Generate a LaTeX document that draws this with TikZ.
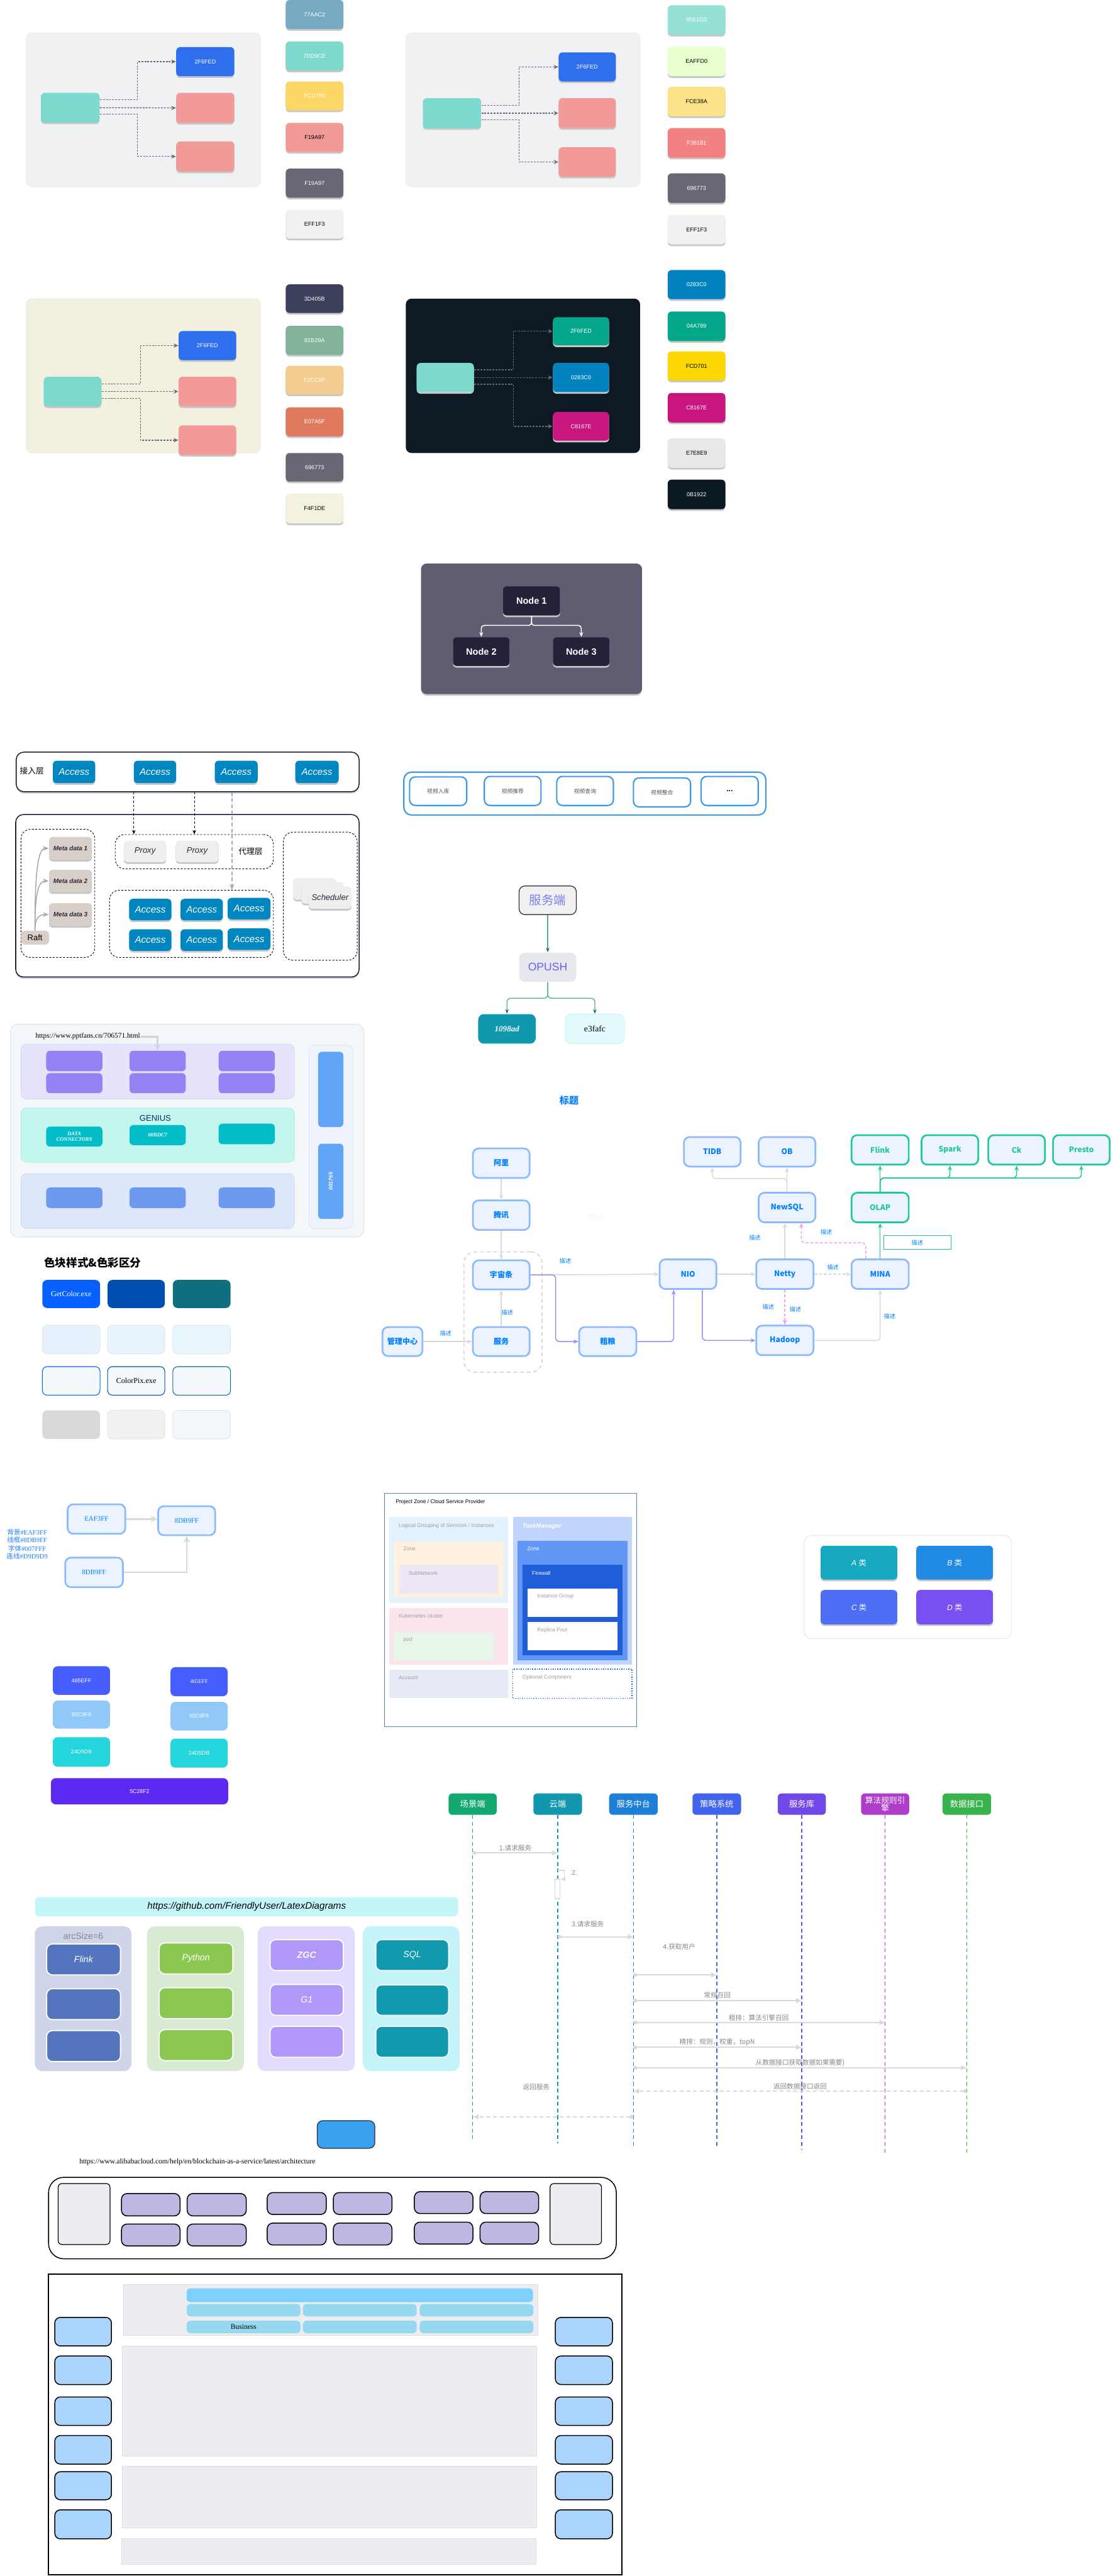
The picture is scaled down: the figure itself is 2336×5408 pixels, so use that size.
\documentclass[tikz,border=0pt]{standalone}
\usepackage{fontspec}
\setmainfont{Liberation Sans}
\newfontfamily\cjk{Noto Sans CJK SC}
\newfontfamily\srf{Liberation Serif}
\usetikzlibrary{arrows.meta,shadows,calc}
\newcommand\dc[1]{\definecolor{c#1}{HTML}{#1}}
\dc{EFF1F3}\dc{7DD9CE}\dc{2F6FED}\dc{F19A97}\dc{696773}\dc{F3F0DF}\dc{0D1A23}\dc{04A789}\dc{0283C0}\dc{C8167E}
\dc{77AAC2}\dc{FCD765}\dc{3D405B}\dc{81B29A}\dc{F2CC8F}\dc{E07A5F}\dc{F4F1DE}\dc{95E1D3}\dc{EAFFD0}\dc{FCE38A}
\dc{F38181}\dc{FCD701}\dc{E7E8E9}\dc{0B1922}\dc{5F5D72}\dc{232239}\dc{1F1F3A}\dc{0087C1}\dc{D8D0C8}\dc{EEEEEE}
\dc{A8A8A8}\dc{3C9AE8}\dc{7B7FF0}\dc{E6E8ED}\dc{6A5FF0}\dc{1E6B5C}\dc{1098AD}\dc{E3FAFC}\dc{5FA89A}\dc{F4F7FA}
\dc{E1E7EC}\dc{E6E3FC}\dc{9583F6}\dc{C3F7EE}\dc{0D2B6B}\dc{03BDC8}\dc{DDE6FA}\dc{6D9AEE}\dc{EFF3FD}\dc{62A5F7}
\dc{D3D3D3}\dc{0560FF}\dc{004FB0}\dc{106F7E}\dc{E7F0FD}\dc{E8F3FB}\dc{E8F6F9}\dc{F3F8FC}\dc{D9D9D9}\dc{F1F1F1}
\dc{F3F7FA}\dc{EAF3FF}\dc{8DB9FF}\dc{007FFF}\dc{1A7FFF}\dc{9B8CF5}\dc{F59FF0}\dc{20C997}\dc{5B7FC7}\dc{E3F2FD}
\dc{FFF1E0}\dc{EDE7F6}\dc{FCE4EC}\dc{E8F5E9}\dc{E8EAF6}\dc{C1D5FC}\dc{6296F7}\dc{1F5ED8}\dc{2962FF}\dc{9E9E9E}
\dc{17A9C1}\dc{218BE4}\dc{4C6EF5}\dc{7950F2}\dc{465EFF}\dc{90C9F8}\dc{24D5DB}\dc{5C28F2}\dc{C4F5F8}\dc{CFD4E8}
\dc{5474BD}\dc{D9EAD3}\dc{8BC852}\dc{E3DCFC}\dc{B098F8}\dc{C4F4F8}\dc{1199AE}\dc{13A870}\dc{1297AE}\dc{1C7ED6}
\dc{4263EB}\dc{7048E8}\dc{AE3EC9}\dc{37B24D}\dc{3AA0F0}\dc{BDB8E2}\dc{ECEDF0}\dc{7FD0FE}\dc{96D8F0}\dc{AAD4FC}
\dc{888888}\dc{DDDDE2}\dc{E5E5E5}\dc{DAD6F8}\dc{B2EDE3}\dc{D0DBF5}\dc{DDE5F5}\dc{DCE6F0}\dc{555555}\dc{2A2A3A}
\newcommand\bx[7]{\node[#6,minimum width={(#4-#2)*0.25pt},minimum height={(#5-#3)*0.25pt},inner sep=0pt] (#1) at ({(#2+#4)/2},{(#3+#5)/2}) {#7};}
\newcommand\fz[1]{\fontsize{#1}{#1}\selectfont}
\begin{document}
\begin{tikzpicture}[x=0.25pt,y=-0.25pt,
  shd/.style={drop shadow={shadow xshift=0pt,shadow yshift=-0.9pt,opacity=1,fill=black!22}},
  tile/.style={rounded corners=2pt,shd},
  sw/.style={tile,font=\fz{3}},
  dasharr/.style={draw=c696773,line width=0.45pt,dash pattern=on 1pt off 0.6pt,-{Stealth[length=2.4pt,width=2.2pt]}},
  tnode/.style={fill=c232239,rounded corners=2pt,text=white,font=\fz{4.8}\bfseries,shd},
  treearr/.style={draw=white,line width=0.5pt,rounded corners=1.5pt,-{Stealth[length=2.5pt,width=2pt]}},
  outer/.style={draw=c1F1F3A,line width=0.5pt,fill=white,rounded corners=4pt,shd},
  acc/.style={tile,fill=c0087C1,text=white,font=\fz{5}\itshape},
  grp/.style={draw=black,line width=0.3pt,dash pattern=on 1pt off 0.8pt,rounded corners=5pt},
  meta/.style={tile,fill=cD8D0C8,text=c2A2A3A,font=\fz{3.3}\bfseries\itshape},
  prx/.style={tile,fill=cEEEEEE,text=c2A2A3A,font=\fz{4.3}\itshape},
  thinarr/.style={draw=black,line width=0.3pt,dash pattern=on 1.2pt off 1pt,-{Stealth[length=2.2pt,width=1.8pt]}},
  grayarr/.style={draw=cA8A8A8,line width=0.5pt,dash pattern=on 2pt off 1.2pt,-{Stealth[length=3pt,width=2.4pt]}},
  raftarr/.style={draw=cA8A8A8,line width=0.5pt,-{Stealth[length=3pt,width=2.4pt]}},
  vid/.style={draw=c3C9AE8,line width=0.7pt,rounded corners=3pt,fill=white,text=c555555,font=\cjk\fz{2.9}},
  tl/.style={draw=c5FA89A,line width=0.45pt,rounded corners=2pt,-{Stealth[length=2.4pt,width=1.8pt,color=c1E6B5C]}},
  pp/.style={rounded corners=2pt},
  ge/.style={draw=cD9D9D9,line width=0.5pt,-{Stealth[length=2.6pt,width=2.2pt]}},
  pe/.style={draw=c9B8CF5,line width=0.5pt,rounded corners=2pt,-{Stealth[length=2.6pt,width=2.2pt]}},
  pkd/.style={draw=cF59FF0,line width=0.5pt,dash pattern=on 1.5pt off 1pt,rounded corners=2pt,-{Stealth[length=2.6pt,width=2.2pt]}},
  gre/.style={draw=c20C997,line width=0.5pt,rounded corners=2pt,-{Stealth[length=2.6pt,width=2.2pt]}},
  gb/.style={fill=cEAF3FF,draw=c8DB9FF,line width=0.9pt,rounded corners=3pt,text=c007FFF,font=\cjk\fz{4}\bfseries},
  gg/.style={gb,draw=c20C997,text=c20C997},
  ds/.style={text=c007FFF,font=\cjk\fz{3}},
  eaf/.style={fill=cEAF3FF,draw=c8DB9FF,line width=0.9pt,rounded corners=3pt,text=c007FFF,font=\srf\fz{3.6}},
  pz/.style={font=\fz{2.8},text=c9E9E9E,anchor=west},
  cb/.style={rounded corners=2.5pt},
  lx/.style={draw=white,line width=0.6pt,rounded corners=3pt,text=white,font=\fz{4.7}\itshape},
  hd/.style={rounded corners=2pt,text=white,font=\cjk\fz{4.4},align=center},
  life/.style={line width=0.5pt,dash pattern=on 2pt off 1.5pt},
  msg/.style={draw=cD9D9D9,line width=0.6pt,{Circle[length=2pt]}-{Latex[length=3pt,width=3pt]}},
  rmsg/.style={msg,dash pattern=on 2pt off 1.5pt},
  mlab/.style={text=c888888,font=\cjk\fz{3.5}},
  pur/.style={fill=cBDB8E2,draw=black,line width=0.5pt,rounded corners=3pt},
  lbl/.style={fill=cAAD4FC,draw=black,line width=0.5pt,rounded corners=3pt},
  gpan/.style={fill=cECEDF0,draw=cDDDDE2,line width=0.3pt}
]
\fill[white] (0,0) rectangle (2336,5408);
\useasboundingbox (0,0) rectangle (2336,5408);

% ---------- palette panel TL
\bx{pa}{55}{69}{547}{392}{fill=cEFF1F3,draw=black!6,rounded corners=3pt}{}
\bx{pat}{86}{195}{209}{257}{tile,fill=c7DD9CE}{}
\bx{pab}{370}{99}{492}{160}{sw,fill=c2F6FED,text=white}{2F6FED}
\bx{pap}{370}{195}{492}{258}{tile,fill=cF19A97}{}
\bx{paq}{370}{297}{492}{360}{tile,fill=cF19A97}{}
\draw[dasharr] ($(pat.east)+(0,-17)$) -- ++(79,0) |- (pab.west);
\draw[dasharr] (pat.east) -- (pap.west);
\draw[dasharr] ($(pat.east)+(0,14)$) -- ++(79,0) |- (paq.west);
% ---------- palette panel TR
\bx{pb}{852}{69}{1344}{392}{fill=cEFF1F3,draw=black!6,rounded corners=3pt}{}
\bx{pbt}{888}{206}{1010}{269}{tile,fill=c7DD9CE}{}
\bx{pbb}{1173}{110}{1293}{171}{sw,fill=c2F6FED,text=white}{2F6FED}
\bx{pbp}{1173}{206}{1293}{269}{tile,fill=cF19A97}{}
\bx{pbq}{1173}{309}{1293}{371}{tile,fill=cF19A97}{}
\draw[dasharr] ($(pbt.east)+(0,-16)$) -- ++(79,0) |- (pbb.west);
\draw[dasharr] (pbt.east) -- (pbp.west);
\draw[dasharr] ($(pbt.east)+(0,14)$) -- ++(79,0) |- (pbq.west);
% ---------- palette panel BL
\bx{pc}{55}{627}{547}{951}{fill=cF3F0DF,draw=black!6,rounded corners=3pt}{}
\bx{pct}{92}{791}{213}{853}{tile,fill=c7DD9CE}{}
\bx{pcb}{375}{695}{496}{756}{sw,fill=c2F6FED,text=white}{2F6FED}
\bx{pcp}{375}{791}{496}{853}{tile,fill=cF19A97}{}
\bx{pcq}{375}{893}{496}{955}{tile,fill=cF19A97}{}
\draw[dasharr] ($(pct.east)+(0,-16)$) -- ++(81,0) |- (pcb.west);
\draw[dasharr] (pct.east) -- (pcp.west);
\draw[dasharr] ($(pct.east)+(0,14)$) -- ++(81,0) |- (pcq.west);
% ---------- palette panel BR (dark)
\bx{pd}{852}{627}{1344}{951}{fill=c0D1A23,rounded corners=3pt}{}
\bx{pdt}{875}{762}{995}{823}{tile,fill=c7DD9CE}{}
\bx{pdb}{1161}{666}{1279}{725}{sw,fill=c04A789,text=white}{2F6FED}
\bx{pdp}{1161}{762}{1279}{823}{sw,fill=c0283C0,text=white}{0283C0}
\bx{pdq}{1161}{865}{1279}{925}{sw,fill=cC8167E,text=white}{C8167E}
\draw[dasharr] ($(pdt.east)+(0,-16)$) -- ++(82,0) |- (pdb.west);
\draw[dasharr] (pdt.east) -- (pdp.west);
\draw[dasharr] ($(pdt.east)+(0,14)$) -- ++(82,0) |- (pdq.west);
% ---------- swatches col 1
\bx{s1}{600}{0}{721}{61}{sw,fill=c77AAC2,text=white}{77AAC2}
\bx{s2}{600}{87}{721}{148}{sw,fill=c7DD9CE,text=white}{7DD9CE}
\bx{s3}{600}{171}{721}{232}{sw,fill=cFCD765,text=white}{FCD765}
\bx{s4}{600}{258}{721}{319}{sw,fill=cF19A97,text=black}{F19A97}
\bx{s5}{600}{354}{721}{415}{sw,fill=c696773,text=white}{F19A97}
\bx{s6}{600}{440}{721}{501}{sw,fill=cEFF1F3,text=black}{EFF1F3}
\bx{s7}{600}{597}{721}{657}{sw,fill=c3D405B,text=white}{3D405B}
\bx{s8}{600}{684}{721}{745}{sw,fill=c81B29A,text=white}{81B29A}
\bx{s9}{600}{768}{721}{828}{sw,fill=cF2CC8F,text=white}{F2CC8F}
\bx{s10}{600}{855}{721}{916}{sw,fill=cE07A5F,text=white}{E07A5F}
\bx{s11}{600}{951}{721}{1011}{sw,fill=c696773,text=white}{696773}
\bx{s12}{600}{1036}{721}{1099}{sw,fill=cF4F1DE,text=black}{F4F1DE}
% ---------- swatches col 2
\bx{t1}{1402}{11}{1523}{73}{sw,fill=c95E1D3,text=white}{95E1D3}
\bx{t2}{1402}{98}{1523}{160}{sw,fill=cEAFFD0,text=black}{EAFFD0}
\bx{t3}{1402}{182}{1523}{244}{sw,fill=cFCE38A,text=black}{FCE38A}
\bx{t4}{1402}{269}{1523}{331}{sw,fill=cF38181,text=white}{F38181}
\bx{t5}{1402}{364}{1523}{426}{sw,fill=c696773,text=white}{696773}
\bx{t6}{1402}{451}{1523}{513}{sw,fill=cEFF1F3,text=black}{EFF1F3}
\bx{t7}{1402}{567}{1523}{628}{sw,fill=c0283C0,text=white}{0283C0}
\bx{t8}{1402}{654}{1523}{716}{sw,fill=c04A789,text=white}{04A789}
\bx{t9}{1402}{738}{1523}{799}{sw,fill=cFCD701,text=black}{FCD701}
\bx{t10}{1402}{825}{1523}{887}{sw,fill=cC8167E,text=white}{C8167E}
\bx{t11}{1402}{920}{1523}{982}{sw,fill=cE7E8E9,text=black}{E7E8E9}
\bx{t12}{1402}{1007}{1523}{1069}{sw,fill=c0B1922,text=white}{0B1922}

% ---------- node tree
\bx{ntp}{884}{1183}{1348}{1457}{fill=c5F5D72,rounded corners=3pt,shd}{}
\bx{n1}{1056}{1231}{1176}{1292}{tnode}{Node 1}
\bx{n2}{951}{1338}{1070}{1398}{tnode}{Node 2}
\bx{n3}{1161}{1338}{1280}{1398}{tnode}{Node 3}
\draw[treearr] (n1.south) -- (n1.south |- 0,1313) -| (n2.north);
\draw[treearr] (n1.south) -- (n1.south |- 0,1313) -| (n3.north);

% ---------- access diagram
\bx{atop}{34}{1579}{754}{1662}{outer}{}
\node[font=\cjk\fz{4.2}] (jr) at (67,1618) {接入层};
\bx{a1}{111}{1597}{200}{1644}{acc}{Access}
\bx{a2}{281}{1597}{370}{1644}{acc}{Access}
\bx{a3}{451}{1597}{541}{1644}{acc}{Access}
\bx{a4}{620}{1597}{711}{1644}{acc}{Access}
\bx{abig}{33}{1710}{754}{2051}{outer}{}
\bx{lg}{44}{1741}{199}{2010}{grp}{}
\bx{md1}{103}{1757}{193}{1805}{meta}{Meta data 1}
\bx{md2}{103}{1826}{193}{1873}{meta}{Meta data 2}
\bx{md3}{103}{1896}{193}{1944}{meta}{Meta data 3}
\bx{raft}{44}{1954}{103}{1983}{fill=cD8D0C8,rounded corners=2pt,font=\fz{4.3}}{Raft}
\draw[raftarr] (raft.north) .. controls (73,1830) and (80,1781) .. (md1.west);
\draw[raftarr] (raft.north) .. controls (73,1880) and (80,1849) .. (md2.west);
\draw[raftarr] (raft.north) .. controls (73,1930) and (80,1920) .. (md3.west);
\bx{pg}{242}{1752}{574}{1824}{grp}{}
\bx{px1}{260}{1765}{349}{1810}{prx}{Proxy}
\bx{px2}{369}{1765}{459}{1810}{prx}{Proxy}
\node[font=\cjk\fz{4.2}] (dl) at (526,1787) {代理层};
\bx{ag}{230}{1869}{574}{2010}{grp}{}
\bx{b1}{271}{1887}{360}{1932}{acc}{Access}
\bx{b2}{379}{1887}{468}{1932}{acc}{Access}
\bx{b3}{478}{1885}{568}{1930}{acc}{Access}
\bx{b4}{271}{1951}{360}{1996}{acc}{Access}
\bx{b5}{379}{1951}{468}{1996}{acc}{Access}
\bx{b6}{478}{1949}{568}{1994}{acc}{Access}
\bx{sg}{595}{1747}{750}{2016}{grp}{}
\bx{sc1}{616}{1843}{705}{1889}{prx}{}
\bx{sc2}{633}{1852}{722}{1897}{prx}{}
\bx{sc3}{648}{1861}{738}{1908}{prx}{Scheduler}
\draw[thinarr] (atop.south -| 281,0) -- (pg.north -| 281,0);
\draw[thinarr] (atop.south -| 408,0) -- (pg.north -| 408,0);
\draw[grayarr] (atop.south -| 487,0) -- (ag.north -| 487,0);

% ---------- video boxes
\bx{vo}{848}{1621}{1608}{1711}{draw=c3C9AE8,line width=0.7pt,rounded corners=4pt}{}
\bx{v1}{860}{1631}{980}{1691}{vid}{视频入库}
\bx{v2}{1017}{1630}{1136}{1691}{vid}{视频推荐}
\bx{v3}{1169}{1630}{1288}{1691}{vid}{视频查询}
\bx{v4}{1330}{1633}{1450}{1694}{vid}{视频整合}
\bx{v5}{1472}{1630}{1592}{1691}{vid,text=black,font=\fz{4}\bfseries}{...}

% ---------- server / OPUSH
\bx{fwd}{1090}{1860}{1210}{1920}{fill=cF1F1F1,draw=c2A2A3A,line width=0.4pt,rounded corners=3pt,text=c7B7FF0,font=\cjk\fz{6.4}}{服务端}
\bx{op}{1090}{2000}{1210}{2061}{fill=cE6E8ED,rounded corners=3pt,text=c6A5FF0,font=\fz{5.8}}{OPUSH}
\bx{ca}{1004}{2129}{1125}{2191}{fill=c1098AD,rounded corners=3pt,text=white,font=\srf\fz{4.3}\bfseries\itshape}{1098ad}
\bx{cbx}{1187}{2129}{1311}{2191}{fill=cE3FAFC,draw=cC4F4F8,line width=0.3pt,rounded corners=3pt,font=\srf\fz{4.5}}{e3fafc}
\draw[tl] (fwd.south) -- (op.north);
\draw[tl] (op.south) -- ++(0,34) -| (ca.north);
\draw[tl] (op.south) -- ++(0,34) -| (cbx.north);

% ---------- pptfans
\bx{pf}{22}{2150}{764}{2597}{fill=cF4F7FA,draw=cE1E7EC,line width=0.4pt,rounded corners=4pt}{}
\node[anchor=west,inner sep=0pt,font=\srf\fz{3.75}] (url) at (74,2176) {https://www.pptfans.cn/706571.html};
\bx{pq}{44}{2192}{618}{2307}{fill=cE6E3FC,draw=cDAD6F8,line width=0.3pt,rounded corners=3pt}{}
\bx{pq1}{97}{2206}{215}{2249}{pp,fill=c9583F6}{}
\bx{pq2}{272}{2206}{390}{2249}{pp,fill=c9583F6}{}
\bx{pq3}{459}{2206}{577}{2249}{pp,fill=c9583F6}{}
\bx{pq4}{97}{2253}{215}{2295}{pp,fill=c9583F6}{}
\bx{pq5}{272}{2253}{390}{2295}{pp,fill=c9583F6}{}
\bx{pq6}{459}{2253}{577}{2295}{pp,fill=c9583F6}{}
\draw[draw=cD3D3D3,line width=1pt,-{Stealth[length=3pt,width=3pt]}] (url.east) -| (pq2.north);
\bx{pt}{44}{2326}{618}{2440}{fill=cC3F7EE,draw=cB2EDE3,line width=0.3pt,rounded corners=3pt}{}
\node[text=c0D2B6B,font=\fz{4.3}] (gen) at (326,2348) {GENIUS};
\bx{pt1}{97}{2365}{215}{2407}{pp,fill=c03BDC8,text=white,font=\srf\fz{2.8}\bfseries\itshape,align=center}{DATA\\CONNECTORS}
\bx{pt2}{272}{2362}{390}{2404}{pp,fill=c03BDC8,text=white,font=\srf\fz{2.8}\bfseries\itshape}{00BDC7}
\bx{pt3}{459}{2359}{577}{2402}{pp,fill=c03BDC8}{}
\bx{pr}{44}{2464}{618}{2579}{fill=cDDE6FA,draw=cD0DBF5,line width=0.3pt,rounded corners=3pt}{}
\bx{pr1}{97}{2493}{215}{2536}{pp,fill=c6D9AEE}{}
\bx{pr2}{272}{2493}{390}{2536}{pp,fill=c6D9AEE}{}
\bx{pr3}{459}{2493}{577}{2536}{pp,fill=c6D9AEE}{}
\bx{ps}{649}{2194}{741}{2579}{fill=cEFF3FD,draw=cDDE5F5,line width=0.3pt,rounded corners=3pt}{}
\bx{ps1}{668}{2208}{721}{2366}{pp,fill=c62A5F7}{}
\bx{ps2}{668}{2401}{721}{2559}{pp,fill=c62A5F7}{}
\node[rotate=90,text=white,font=\fz{2.8}\bfseries\itshape] (ps2t) at (ps2.center) {001765};

% ---------- color blocks
\node[anchor=west,inner sep=0pt,font=\cjk\fz{5.8}\bfseries] (cbt) at (92,2651) {色块样式\&色彩区分};
\bx{k1}{89}{2687}{210}{2746}{cb,fill=c0560FF,text=white,font=\srf\fz{4}}{GetColor.exe}
\bx{k2}{226}{2687}{346}{2746}{cb,fill=c004FB0}{}
\bx{k3}{363}{2687}{484}{2746}{cb,fill=c106F7E}{}
\bx{k4}{89}{2782}{210}{2842}{cb,fill=cE7F0FD,draw=cDCE6F0,line width=0.3pt}{}
\bx{k5}{226}{2782}{346}{2842}{cb,fill=cE8F3FB,draw=cDCE6F0,line width=0.3pt}{}
\bx{k6}{363}{2782}{484}{2842}{cb,fill=cE8F6F9,draw=cDCE6F0,line width=0.3pt}{}
\bx{k7}{89}{2869}{210}{2929}{cb,fill=cF3F8FC,draw=c0560FF,line width=0.35pt}{}
\bx{k8}{226}{2869}{346}{2929}{cb,fill=cF3F8FC,draw=c004FB0,line width=0.35pt,font=\srf\fz{4}}{ColorPix.exe}
\bx{k9}{363}{2869}{484}{2929}{cb,fill=cF3F8FC,draw=c106F7E,line width=0.35pt}{}
\bx{k10}{89}{2961}{210}{3021}{cb,fill=cD9D9D9}{}
\bx{k11}{226}{2961}{346}{3021}{cb,fill=cF1F1F1,draw=cE5E5E5,line width=0.3pt}{}
\bx{k12}{363}{2961}{484}{3021}{cb,fill=cF3F7FA,draw=cE5E5E5,line width=0.3pt}{}

% ---------- EAF legend
\bx{e1}{142}{3158}{263}{3220}{eaf}{EAF3FF}
\bx{e2}{332}{3162}{452}{3223}{eaf}{8DB9FF}
\bx{e3}{137}{3270}{258}{3332}{eaf}{8DB9FF}
\draw[draw=cD9D9D9,line width=0.8pt,-{Stealth[length=3.5pt,width=3.5pt]}] (e1.east) -- (e1.east -| e2.west);
\draw[draw=cD9D9D9,line width=0.8pt,-{Stealth[length=3.5pt,width=3.5pt]}] (e3.east) -| (e2.south);
\node[text=c1A7FFF,font=\fz{3.5}] (lg1) at (57,3217) {{\cjk 背景}{\srf\#EAF3FF}};
\node[text=c1A7FFF,font=\fz{3.5}] (lg2) at (57,3233) {{\cjk 线框}{\srf\#8DB9FF}};
\node[text=c1A7FFF,font=\fz{3.5}] (lg3) at (57,3251) {{\cjk 字体}{\srf\#007FFF}};
\node[text=c1A7FFF,font=\fz{3.5}] (lg4) at (57,3267) {{\cjk 连线}{\srf\#D9D9D9}};

% ---------- colour blocks 465EFF
\bx{q1}{111}{3498}{231}{3558}{cb,fill=c465EFF,text=white,font=\fz{2.9}}{465EFF}
\bx{q2}{111}{3570}{231}{3629}{cb,fill=c90C9F8,text=white,font=\fz{2.9}}{90C9F8}
\bx{q3}{111}{3647}{231}{3709}{cb,fill=c24D5DB,text=white,font=\fz{2.9}}{24D5DB}
\bx{q4}{358}{3500}{478}{3561}{cb,fill=c465EFF,text=white,font=\srf\fz{2.9}}{465EFF}
\bx{q5}{358}{3573}{478}{3633}{cb,fill=c90C9F8,text=white,font=\fz{2.9}}{90C9F8}
\bx{q6}{358}{3650}{478}{3711}{cb,fill=c24D5DB,text=white,font=\fz{2.9}}{24D5DB}
\bx{q7}{107}{3733}{479}{3788}{cb,fill=c5C28F2,text=white,font=\fz{2.9}}{5C28F2}

% ---------- title graph
\node[text=c007FFF,font=\cjk\fz{5}\bfseries\itshape] (ttl) at (1195,2310) {标题};
\bx{grpd}{974}{2628}{1138}{2881}{draw=cD9D9D9,line width=0.6pt,dash pattern=on 2pt off 1.5pt,rounded corners=6pt}{}
\node[text=cEFF3FD,font=\fz{4}] (ghost) at (1250,2555) {Text};
\bx{ali}{993}{2411}{1112}{2473}{gb}{阿里}
\bx{tx}{993}{2520}{1112}{2582}{gb}{腾讯}
\bx{yz}{993}{2646}{1112}{2707}{gb}{宇宙条}
\bx{fw}{993}{2786}{1112}{2847}{gb}{服务}
\bx{gl}{803}{2786}{887}{2847}{gb}{管理中心}
\bx{cl}{1216}{2786}{1336}{2847}{gb}{粗粮}
\bx{nio}{1385}{2644}{1504}{2706}{gb}{NIO}
\bx{nt}{1588}{2644}{1708}{2706}{gb}{Netty}
\bx{mina}{1788}{2644}{1908}{2706}{gb}{MINA}
\bx{hdp}{1588}{2783}{1708}{2845}{gb}{Hadoop}
\bx{ns}{1593}{2504}{1712}{2566}{gb}{NewSQL}
\bx{tidb}{1436}{2387}{1555}{2449}{gb}{TIDB}
\bx{ob}{1593}{2387}{1712}{2449}{gb}{OB}
\bx{olap}{1788}{2504}{1908}{2566}{gg}{OLAP}
\bx{flink}{1788}{2383}{1908}{2445}{gg}{Flink}
\bx{spark}{1935}{2383}{2054}{2445}{gg}{Spark}
\bx{ck}{2075}{2383}{2194}{2445}{gg}{Ck}
\bx{presto}{2211}{2383}{2330}{2445}{gg}{Presto}
\bx{dsb}{1855}{2594}{1997}{2623}{draw=c20C997,line width=0.3pt,ds}{描述}
\draw[ge] (ali) -- (tx);
\draw[ge] (tx) -- (yz);
\draw[ge] (fw) -- (yz);
\draw[ge] (gl) -- (fw);
\draw[ge] (yz.east) -- (nio.west);
\draw[pe] (yz.east) -- ++(53,0) |- (cl.west);
\draw[pe] (cl.east) -| ($(nio.south)+(-30,0)$);
\draw[pe] ($(nio.south)+(30,0)$) |- (hdp.west);
\draw[ge] (nio.east) -- (nt.west);
\draw[ge,dash pattern=on 1.5pt off 1pt] (nt.east) -- (mina.west);
\draw[ge] (nt.north) -- (nt.north |- ns.south);
\draw[pkd] ($(mina.north)+(-30,0)$) -- ++(0,-33) -| ($(ns.south)+(30,0)$);
\draw[pkd] (nt.south) -- (hdp.north);
\draw[ge,rounded corners=2pt] (hdp.east) -| (mina.south);
\draw[gre] (mina.north) -- (olap.south);
\draw[ge,rounded corners=2pt] (ns.north) -- ++(0,-28) -| (tidb.south);
\draw[ge] (ns.north) -- (ob.south);
\draw[gre] (olap.north) -- (flink.south);
\draw[gre] (olap.north) -- ++(0,-29) -| (spark.south);
\draw[gre] (olap.north) -- ++(0,-29) -| (ck.south);
\draw[gre] (olap.north) -- ++(0,-29) -| (presto.south);
\node[ds] (d1) at (1065,2755) {描述};
\node[ds] (d2) at (936,2799) {描述};
\node[ds] (d3) at (1187,2647) {描述};
\node[ds] (d4) at (1749,2660) {描述};
\node[ds] (d5) at (1585,2599) {描述};
\node[ds] (d6) at (1735,2587) {描述};
\node[ds] (d7) at (1613,2744) {描述};
\node[ds] (d8) at (1670,2749) {描述};
\node[ds] (d9) at (1868,2763) {描述};

% ---------- project zone
\bx{pzo}{807}{3135}{1337}{3625}{draw=c5B7FC7,line width=0.35pt,fill=white}{}
\node[anchor=west,font=\fz{2.8}] (pzt) at (817,3153) {Project Zone / Cloud Service Provider};
\bx{lgs}{817}{3185}{1067}{3365}{fill=cE3F2FD}{}
\bx{zn1}{827}{3236}{1057}{3354}{fill=cFFF1E0}{}
\bx{sub}{838}{3285}{1047}{3345}{fill=cEDE7F6}{}
\bx{k8s}{817}{3376}{1067}{3495}{fill=cFCE4EC}{}
\bx{pod}{827}{3426}{1037}{3485}{fill=cE8F5E9}{}
\bx{acct}{817}{3505}{1067}{3565}{fill=cE8EAF6}{}
\bx{tm}{1077}{3185}{1327}{3495}{fill=cC1D5FC}{}
\bx{zn2}{1087}{3235}{1317}{3485}{fill=c6296F7}{}
\bx{fwl}{1097}{3285}{1307}{3475}{fill=c1F5ED8}{}
\bx{ig}{1108}{3335}{1297}{3395}{fill=white}{}
\bx{rp}{1108}{3405}{1297}{3465}{fill=white}{}
\bx{opt}{1077}{3504}{1327}{3565}{draw=c2962FF,line width=0.4pt,dash pattern=on 0.5pt off 0.7pt}{}
\node[pz] (l1) at (823,3203) {Logical Grouping of Services / Instances};
\node[pz] (l2) at (833,3252) {Zone};
\node[pz] (l3) at (844,3303) {SubNetwork};
\node[pz] (l4) at (823,3393) {Kubernetes cluster};
\node[pz] (l5) at (833,3443) {pod};
\node[pz] (l6) at (823,3522) {Account};
\node[pz,text=white,font=\fz{3.2}\bfseries\itshape] (l7) at (1083,3204) {TaskManager};
\node[pz,text=white] (l8) at (1093,3252) {Zone};
\node[pz,text=white] (l9) at (1103,3303) {Firewall};
\node[pz] (l10) at (1114,3352) {Instance Group};
\node[pz] (l11) at (1114,3423) {Replica Pool};
\node[pz] (l12) at (1083,3522) {Optional Component};

% ---------- ABCD
\bx{abc}{1688}{3223}{2124}{3440}{fill=white,draw=cE5E5E5,line width=0.3pt,rounded corners=4pt}{}
\bx{ka}{1723}{3245}{1884}{3316}{tile,fill=c17A9C1,text=white,font=\fz{4}\itshape}{A {\cjk 类}}
\bx{kb}{1924}{3245}{2085}{3316}{tile,fill=c218BE4,text=white,font=\fz{4}\itshape}{B {\cjk 类}}
\bx{kc}{1723}{3338}{1884}{3410}{tile,fill=c4C6EF5,text=white,font=\fz{4}\itshape}{C {\cjk 类}}
\bx{kd}{1924}{3338}{2085}{3410}{tile,fill=c7950F2,text=white,font=\fz{4}\itshape}{D {\cjk 类}}

% ---------- latex diagrams
\bx{gh}{74}{3983}{962}{4023}{fill=cC4F5F8,rounded corners=2pt,font=\fz{5}\itshape}{https://github.com/FriendlyUser/LatexDiagrams}
\bx{c1}{73}{4044}{276}{4348}{fill=cCFD4E8,rounded corners=4pt}{}
\bx{c2}{309}{4044}{512}{4348}{fill=cD9EAD3,rounded corners=4pt}{}
\bx{c3}{541}{4044}{745}{4348}{fill=cE3DCFC,rounded corners=4pt}{}
\bx{c4}{762}{4044}{965}{4348}{fill=cC4F4F8,rounded corners=4pt}{}
\node[text=c888888,font=\fz{4.7}] (arc) at (175,4064) {arcSize=6};
\bx{x1}{98}{4081}{253}{4146}{lx,fill=c5474BD}{Flink}
\bx{x2}{98}{4175}{253}{4240}{lx,fill=c5474BD}{}
\bx{x3}{98}{4263}{253}{4328}{lx,fill=c5474BD}{}
\bx{y1}{334}{4079}{489}{4144}{lx,fill=c8BC852}{Python}
\bx{y2}{334}{4173}{489}{4238}{lx,fill=c8BC852}{}
\bx{y3}{334}{4261}{489}{4326}{lx,fill=c8BC852}{}
\bx{z1}{567}{4072}{721}{4137}{lx,fill=cB098F8,font=\fz{4.7}\bfseries\itshape}{ZGC}
\bx{z2}{567}{4166}{721}{4231}{lx,fill=cB098F8}{G1}
\bx{z3}{567}{4254}{721}{4319}{lx,fill=cB098F8}{}
\bx{w1}{789}{4072}{942}{4137}{lx,fill=c1199AE}{SQL}
\bx{w2}{789}{4167}{942}{4231}{lx,fill=c1199AE}{}
\bx{w3}{789}{4254}{942}{4319}{lx,fill=c1199AE}{}

% ---------- sequence diagram
\bx{h1}{942}{3765}{1043}{3810}{hd,fill=c13A870}{场景端}
\bx{h2}{1120}{3765}{1222}{3810}{hd,fill=c1297AE}{云端}
\bx{h3}{1279}{3765}{1381}{3810}{hd,fill=c1C7ED6}{服务中台}
\bx{h4}{1454}{3765}{1556}{3810}{hd,fill=c4263EB}{策略系统}
\bx{h5}{1633}{3765}{1734}{3810}{hd,fill=c7048E8}{服务库}
\bx{h6}{1808}{3765}{1909}{3810}{hd,fill=cAE3EC9,font=\cjk\fz{4.2}}{算法规则引\\擎}
\bx{h7}{1979}{3765}{2081}{3810}{hd,fill=c37B24D}{数据接口}
\draw[life,draw=c13A870] (h1.south) -- (h1.south |- 0,4490);
\draw[life,draw=c1297AE] (h2.south) -- (h2.south |- 0,4499);
\draw[life,draw=c1C7ED6] (h3.south) -- (h3.south |- 0,4505);
\draw[life,draw=c4263EB] (h4.south) -- (h4.south |- 0,4510);
\draw[life,draw=c7048E8] (h5.south) -- (h5.south |- 0,4511);
\draw[life,draw=cAE3EC9] (h6.south) -- (h6.south |- 0,4519);
\draw[life,draw=c37B24D] (h7.south) -- (h7.south |- 0,4521);
\draw[msg] (h1.south |- 0,3890) -- (h2.south |- 0,3890);
\node[mlab] (m1) at (1082,3879) {1.请求服务};
\draw[draw=cD9D9D9,line width=0.6pt,-{Latex[length=2.5pt,width=2.5pt]}] (h2.south |- 0,3927) -- ++(14,0) -- ++(0,18) -- ++(-8,0);
\node[mlab,font=\fz{3.5}] (m2) at (1206,3932) {2.};
\bx{act}{1165}{3945}{1176}{3986}{fill=white,draw=cD9D9D9,line width=0.4pt}{}
\draw[msg] (h2.south |- 0,4066) -- (h3.south |- 0,4066);
\node[mlab] (m3) at (1234,4039) {3.请求服务};
\draw[msg] (h3.south |- 0,4146) -- (h4.south |- 0,4146);
\node[mlab] (m4) at (1426,4087) {4.获取用户};
\draw[msg] (h3.south |- 0,4200) -- (h5.south |- 0,4200);
\node[mlab] (m5) at (1506,4189) {常规召回};
\draw[msg] (h3.south |- 0,4246) -- (h6.south |- 0,4246);
\node[mlab] (m6) at (1593,4236) {粗排：算法引擎召回};
\draw[msg] (h3.south |- 0,4298) -- (h5.south |- 0,4298);
\node[mlab] (m7) at (1506,4288) {精排：规则，权重，topN};
\draw[msg] (h3.south |- 0,4341) -- (h7.south |- 0,4341);
\node[mlab] (m8) at (1680,4331) {从数据接口获取数据如果需要)};
\draw[rmsg] (h7.south |- 0,4390) -- (h3.south |- 0,4390);
\node[mlab] (m9) at (1680,4380) {返回数据接口返回};
\draw[rmsg] (h3.south |- 0,4444) -- (h1.south |- 0,4444);
\node[mlab] (m10) at (1126,4381) {返回服务};

% ---------- blue button
\bx{btn}{666}{4452}{787}{4510}{fill=c3AA0F0,draw=c2A2A3A,line width=0.4pt,rounded corners=3pt}{}

% ---------- alibaba
\node[anchor=west,inner sep=0pt,font=\srf\fz{3.8}] (aurl) at (166,4539) {https://www.alibabacloud.com/help/en/blockchain-as-a-service/latest/architecture};
\bx{ao}{102}{4571}{1294}{4742}{draw=black,line width=0.5pt,rounded corners=8pt}{}
\bx{ag1}{122}{4584}{231}{4712}{fill=cECEDF0,draw=black,line width=0.4pt,rounded corners=2pt}{}
\bx{ag2}{1155}{4584}{1263}{4712}{fill=cECEDF0,draw=black,line width=0.4pt,rounded corners=2pt}{}
\bx{u1}{255}{4605}{378}{4652}{pur}{}
\bx{u2}{393}{4605}{517}{4652}{pur}{}
\bx{u3}{255}{4669}{378}{4715}{pur}{}
\bx{u4}{393}{4669}{517}{4715}{pur}{}
\bx{u5}{561}{4603}{685}{4649}{pur}{}
\bx{u6}{700}{4603}{823}{4649}{pur}{}
\bx{u7}{561}{4667}{685}{4713}{pur}{}
\bx{u8}{700}{4667}{823}{4713}{pur}{}
\bx{u9}{870}{4601}{993}{4647}{pur}{}
\bx{u10}{1008}{4601}{1131}{4647}{pur}{}
\bx{u11}{870}{4665}{993}{4711}{pur}{}
\bx{u12}{1008}{4665}{1131}{4711}{pur}{}

% ---------- bottom diagram
\bx{bo}{102}{4774}{1306}{5405}{draw=black,line width=0.5pt}{}
\bx{bp1}{259}{4796}{1129}{4903}{gpan}{}
\bx{bar}{392}{4804}{1119}{4833}{fill=c7FD0FE,rounded corners=2pt}{}
\bx{r1}{392}{4837}{631}{4863}{fill=c96D8F0,rounded corners=2pt}{}
\bx{r2}{636}{4837}{875}{4863}{fill=c96D8F0,rounded corners=2pt}{}
\bx{r3}{881}{4837}{1120}{4863}{fill=c96D8F0,rounded corners=2pt}{}
\bx{r4}{392}{4872}{631}{4898}{fill=c96D8F0,rounded corners=2pt,font=\srf\fz{3.8}}{Business}
\bx{r5}{636}{4872}{875}{4898}{fill=c96D8F0,rounded corners=2pt}{}
\bx{r6}{881}{4872}{1120}{4898}{fill=c96D8F0,rounded corners=2pt}{}
\bx{bp2}{257}{4925}{1127}{5156}{gpan}{}
\bx{bp3}{257}{5177}{1127}{5307}{gpan}{}
\bx{bp4}{256}{5329}{1125}{5384}{gpan}{}
\bx{lb1}{115}{4865}{234}{4925}{lbl}{}
\bx{lb2}{115}{4946}{234}{5006}{lbl}{}
\bx{lb3}{115}{5032}{234}{5092}{lbl}{}
\bx{lb4}{115}{5113}{234}{5173}{lbl}{}
\bx{lb5}{115}{5189}{234}{5248}{lbl}{}
\bx{lb6}{115}{5269}{234}{5330}{lbl}{}
\bx{rb1}{1166}{4865}{1286}{4925}{lbl}{}
\bx{rb2}{1166}{4946}{1286}{5006}{lbl}{}
\bx{rb3}{1166}{5032}{1286}{5092}{lbl}{}
\bx{rb4}{1166}{5113}{1286}{5173}{lbl}{}
\bx{rb5}{1166}{5189}{1286}{5248}{lbl}{}
\bx{rb6}{1166}{5269}{1286}{5330}{lbl}{}
\end{tikzpicture}
\end{document}
